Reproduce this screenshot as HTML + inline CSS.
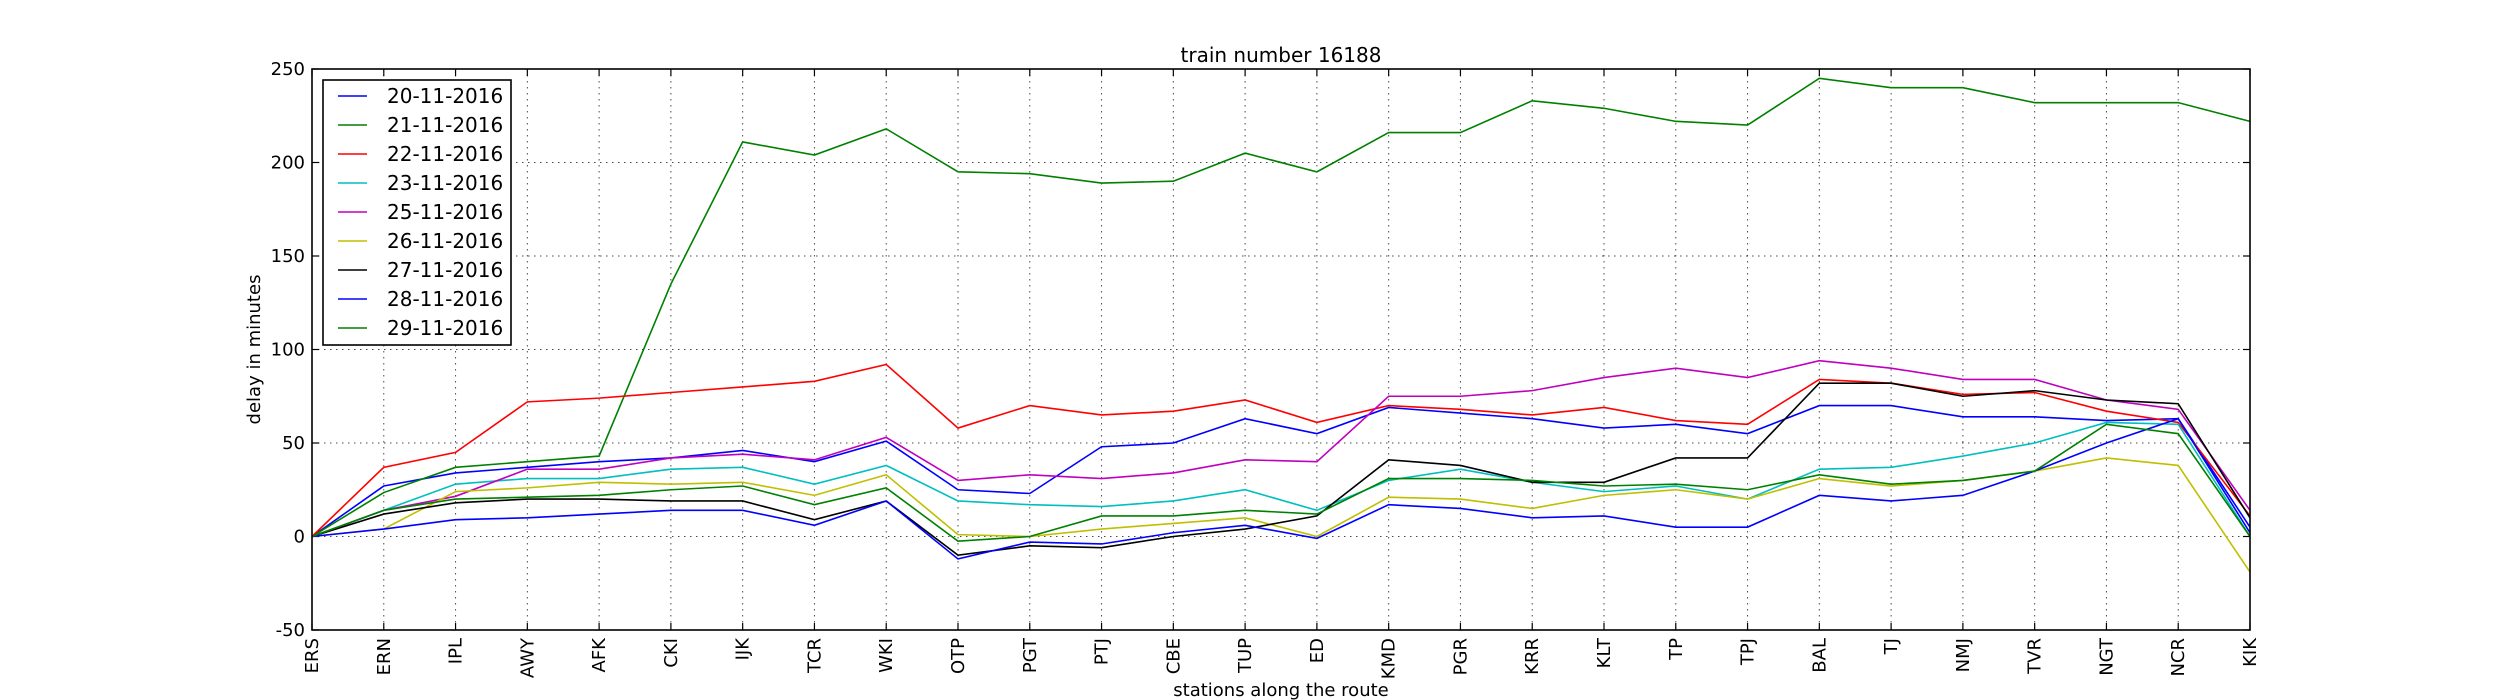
<!DOCTYPE html>
<html><head><meta charset="utf-8"><style>
html,body{margin:0;padding:0;background:#fff;}
svg{display:block;font-family:"DejaVu Sans","Liberation Sans",sans-serif;}
</style></head><body>
<svg id="chart" width="2500" height="700" viewBox="0 0 2500 700" xmlns="http://www.w3.org/2000/svg"></svg>
<script>
const stations = ["ERS","ERN","IPL","AWY","AFK","CKI","IJK","TCR","WKI","OTP","PGT","PTJ","CBE","TUP","ED","KMD","PGR","KRR","KLT","TP","TPJ","BAL","TJ","NMJ","TVR","NGT","NCR","KIK"];
const yTicks = [-50,0,50,100,150,200,250];
const seriesLabels = ["20-11-2016","21-11-2016","22-11-2016","23-11-2016","25-11-2016","26-11-2016","27-11-2016","28-11-2016","29-11-2016"];
const s20 = [0,27,34,37,40,42,46,40,51,25,23,48,50,63,55,69,66,63,58,60,55,70,70,64,64,62,63,5];
const s21 = [0,23.5,37,40,43,135,211,204,218,195,194,189,190,205,195,216,216,233,229,222,220,245,240,240,232,232,232,222];
const s22 = [0,37,45,72,74,77,80,83,92,58,70,65,67,73,61,70,68,65,69,62,60,84,82,76,77,67,61,11];
const s23 = [0,14,28,31,31,36,37,28,38,19,17,16,19,25,14,30,36,29,24,27,20,36,37,43,50,61,60,0];
const s25 = [0,14,21.5,36,36,42,44,41,53,30,33,31,34,41,40,75,75,78,85,90,85,94,90,84,84,73,68,14];
const s26 = [0,4,24,26,29,28,29,22,33,1,0,4,7,10,0,21,20,15,22,25,20,31,27,30,35,42,38,-19];
const s27 = [0,12,18,20,20,19,19,9,19,-10,-5,-6,0,4,11,41,38,29,29,42,42,82,82,75,78,73,71,10];
const s28 = [0,4,9,10,12,14,14,6,19,-12,-3,-4,2,6,-1,17,15,10,11,5,5,22,19,22,35,50,63,2];
const s29 = [0,14,20,21,22,25,27,17,26,-2.5,0,11,11,14,12,31,31,30,27,28,25,33,28,30,35,60,55,0];
const allSeries = [s20,s21,s22,s23,s25,s26,s27,s28,s29];
const colors = ["#0000ff","#008000","#ff0000","#00bfbf","#bf00bf","#bfbf00","#000000","#0000ff","#008000"];

const NS="http://www.w3.org/2000/svg";
const svg=document.getElementById('chart');
const L=312,R=2250,T=69,B=630,yMin=-50,yMax=250;
const xs=i=>L+(R-L)*i/(stations.length-1);
const ys=v=>B-(B-T)*(v-yMin)/(yMax-yMin);
function mk(tag,attrs,parent){const e=document.createElementNS(NS,tag);for(const k in attrs)e.setAttribute(k,attrs[k]);(parent||svg).appendChild(e);return e;}

const grid=mk('g',{});


stations.forEach((s,i)=>{
  const x=xs(i);
  mk('line',{x1:x,x2:x,y1:T,y2:B,stroke:'#000','stroke-width':1,'stroke-dasharray':'1.5,4.5',opacity:0.7},grid);
  mk('line',{x1:x,x2:x,y1:B,y2:B-7,stroke:'#000','stroke-width':1.2},grid);
  mk('line',{x1:x,x2:x,y1:T,y2:T+7,stroke:'#000','stroke-width':1.2},grid);
  const t=mk('text',{x:0,y:0,'font-size':18,'text-anchor':'end',transform:`translate(${x+6},${B+8}) rotate(-90)`});
  t.textContent=s;
  
  
});
yTicks.forEach(v=>{
  const y=ys(v);
  mk('line',{x1:L,x2:R,y1:y,y2:y,stroke:'#000','stroke-width':1,'stroke-dasharray':'1.5,4.5',opacity:0.7},grid);
  mk('line',{x1:L,x2:L+7,y1:y,y2:y,stroke:'#000','stroke-width':1.2},grid);
  mk('line',{x1:R,x2:R-7,y1:y,y2:y,stroke:'#000','stroke-width':1.2},grid);
  const t=mk('text',{x:L-7,y:y+6,'font-size':18,'text-anchor':'end'});
  t.textContent=v;
  
  
});

allSeries.forEach((d,si)=>{
  const p=mk('polyline',{points:d.map((v,i)=>xs(i)+','+ys(v)).join(' '),fill:'none',stroke:colors[si],'stroke-width':1.6});
  
  
});

const frame=mk('rect',{x:L,y:T,width:R-L,height:B-T,fill:'none',stroke:'#000','stroke-width':1.6});



const title=mk('text',{x:(L+R)/2,y:62,'font-size':20,'text-anchor':'middle'});
title.textContent='train number 16188';


const xt=mk('text',{x:(L+R)/2,y:696,'font-size':18,'text-anchor':'middle'});
xt.textContent='stations along the route';


const yt=mk('text',{x:0,y:0,'font-size':18,'text-anchor':'middle',transform:`translate(260,${(T+B)/2}) rotate(-90)`});
yt.textContent='delay in minutes';



const lg=mk('g',{});


mk('rect',{x:323,y:80,width:188,height:265,fill:'#fff',stroke:'#000','stroke-width':1.6},lg);
seriesLabels.forEach((lab,i)=>{
  const y=96+i*29;
  const ln=mk('line',{x1:338,x2:367,y1:y,y2:y,stroke:colors[i],'stroke-width':1.6},lg);
  
  
  const t=mk('text',{x:387,y:y+7,'font-size':20},lg);
  t.textContent=lab;
  
  
});
</script>
</body></html>
